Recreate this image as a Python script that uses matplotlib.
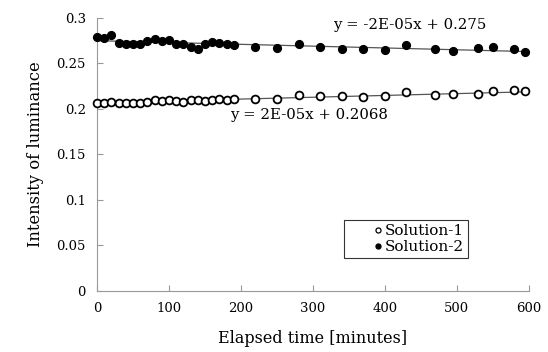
import numpy as np
import matplotlib.pyplot as plt

plt.rcParams['font.family'] = 'DejaVu Serif'

# elapsed time [minutes]
minutes = [0, 10, 20, 30, 40, 50, 60, 70, 80, 90, 100, 110, 120, 130, 140, 150,
           160, 170, 180, 190, 220, 250, 280, 310, 340, 370, 400, 430, 470, 495,
           530, 550, 580, 595]

solution_1 = [0.2062, 0.2068, 0.2079, 0.2062, 0.2062, 0.2062, 0.2068, 0.2075,
              0.2097, 0.2090, 0.2097, 0.2090, 0.2079, 0.2097, 0.2097, 0.2090,
              0.2097, 0.2105, 0.2097, 0.2105, 0.2105, 0.2105, 0.2152, 0.2142,
              0.2142, 0.2127, 0.2142, 0.2189, 0.2153, 0.2164, 0.2164, 0.2200,
              0.2208, 0.2200]

solution_2 = [0.2794, 0.2777, 0.2813, 0.2722, 0.2711, 0.2714, 0.2714, 0.2750,
              0.2766, 0.2750, 0.2758, 0.2711, 0.2717, 0.2684, 0.2662, 0.2711,
              0.2733, 0.2729, 0.2714, 0.2703, 0.2677, 0.2666, 0.2714, 0.2684,
              0.2656, 0.2659, 0.2648, 0.2703, 0.2656, 0.2640, 0.2666, 0.2677,
              0.2659, 0.2629]

# trendline coefficients shown on the chart
fit_1 = (2e-05, 0.2068)
fit_2 = (-2e-05, 0.275)

fig = plt.figure(figsize=(5.48, 3.52), dpi=100)
ax = fig.add_axes([0.177, 0.174, 0.788, 0.775])

x = np.array(minutes)
xl = np.array([x.min(), x.max()])
ax.plot(xl, fit_1[0] * xl + fit_1[1], color='#555555', lw=0.9, zorder=1)
ax.plot(xl, fit_2[0] * xl + fit_2[1], color='#555555', lw=0.9, zorder=1)

ax.plot(x, solution_1, 'o', ms=5.6, mfc='white', mec='black', mew=1.3,
        label='Solution-1', clip_on=False, zorder=3)
ax.plot(x, solution_2, 'o', ms=5.6, mfc='black', mec='black',
        label='Solution-2', clip_on=False, zorder=3)

ax.text(434, 0.2923, 'y = -2E-05x + 0.275', ha='center', va='center', fontsize=10.7)
ax.text(295, 0.1933, 'y = 2E-05x + 0.2068', ha='center', va='center', fontsize=10.7)

ax.set_xlim(0, 600)
ax.set_ylim(0, 0.3)
ax.set_xticks(range(0, 601, 100))
ax.set_yticks([0, 0.05, 0.1, 0.15, 0.2, 0.25, 0.3])
ax.set_yticklabels(['0', '0.05', '0.1', '0.15', '0.2', '0.25', '0.3'])

for side in ['top', 'right']:
    ax.spines[side].set_visible(False)
for side in ['left', 'bottom']:
    ax.spines[side].set_color('#999999')
ax.tick_params(direction='in', length=4, color='#999999', labelsize=9.5, pad=8)

ax.set_xlabel('Elapsed time [minutes]', fontsize=11.5, labelpad=11)
ax.set_ylabel('Intensity of luminance', fontsize=11.8, labelpad=9)

leg = ax.legend(loc='lower right', bbox_to_anchor=(0.858, 0.12), fontsize=11,
                frameon=True, fancybox=False, handlelength=4.0, handletextpad=-1.6,
                borderpad=0.25, labelspacing=0.15, markerscale=0.65,
                borderaxespad=0)
leg.get_frame().set_edgecolor('black')
leg.get_frame().set_linewidth(0.8)
for h in leg.legend_handles:
    h.set_markeredgewidth(0.9)

fig.savefig('out.png', dpi=100)
